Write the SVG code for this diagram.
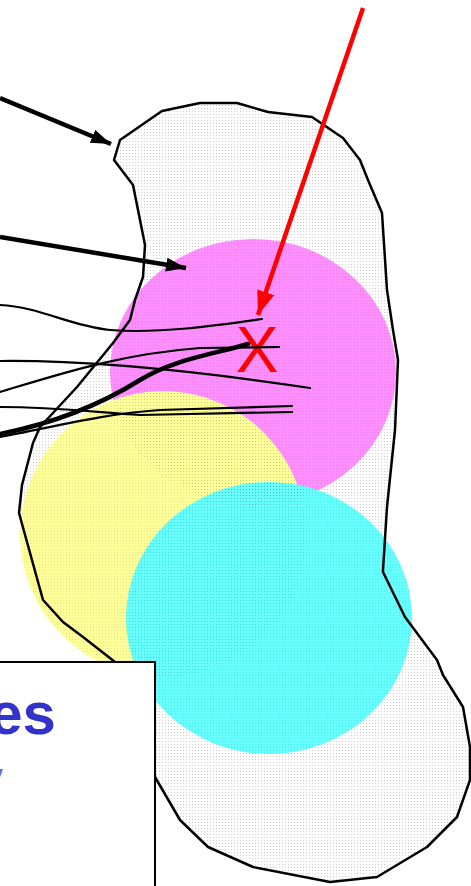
<svg xmlns="http://www.w3.org/2000/svg" width="471" height="886" viewBox="0 0 471 886">
<style>
.outline{fill:none;stroke:#000;stroke-width:2.5;stroke-linejoin:round}
.thin{fill:none;stroke:#000;stroke-width:2.2;stroke-linecap:round}
.thick{fill:none;stroke:#000;stroke-width:4.5;stroke-linecap:round}
.arrow{fill:none;stroke:#000;stroke-width:4.5}
.red{fill:none;stroke:#ff0000;stroke-width:4.5}
.lbl{font-family:"Liberation Sans",Arial,sans-serif;font-weight:bold}
</style>
<defs>
<pattern id="dots" width="3" height="3" patternUnits="userSpaceOnUse">
<rect width="3" height="3" fill="#ffffff"/>
<rect width="1" height="1" fill="#cfcfcf"/>
</pattern>
<pattern id="dotsOver" width="3" height="3" patternUnits="userSpaceOnUse">
<rect width="1" height="1" fill="#000" fill-opacity="0.1"/>
</pattern>
<marker id="ah" markerUnits="userSpaceOnUse" markerWidth="22" markerHeight="16" refX="20" refY="7" orient="auto">
<path d="M0,0 L20,7 L0,14 z" fill="#000"/>
</marker>
<marker id="ahr" markerUnits="userSpaceOnUse" markerWidth="26" markerHeight="20" refX="24" refY="9" orient="auto">
<path d="M0,0 L24,9 L0,18 z" fill="#ff0000"/>
</marker>
</defs>

<g id="blob">
<path id="blobShape" d="M120,140 L114,160 L133,185 L145,245 L143,277 L135,300 L130,320 L113,343 L77,387 L40,427 L33,443 L22,485 L19,513 L43,600 L63,622 L83,637 L115,662 L150,690 L155,777 L180,820 L208,847 L253,867 L330,882 L377,877 L427,847 L457,817 L470,780 L470,747 L463,707 L443,675 L437,660 L405,617 L383,572 L383,570 L387,507 L395,430 L398,360 L393,330 L387,290 L382,213 L368,180 L360,160 L343,138 L312,117 L268,112 L237,103 L200,103 L162,111 Z" fill="url(#dots)"/>
</g>

<g id="circles">
<ellipse id="magenta" cx="253" cy="372" rx="143" ry="133" fill="#ff8fff"/>
<circle id="yellow" cx="163" cy="534" r="143" fill="#ffff99"/>
<ellipse id="cyan" cx="269" cy="618" rx="143" ry="136" fill="#66ffff"/>
<ellipse cx="253" cy="372" rx="143" ry="133" fill="url(#dotsOver)"/>
<circle cx="163" cy="534" r="143" fill="url(#dotsOver)"/>
<ellipse cx="269" cy="618" rx="143" ry="136" fill="url(#dotsOver)"/>
</g>

<g id="blobOutline">
<path class="outline" d="M120,140 L114,160 L133,185 L145,245 L143,277 L135,300 L130,320 L113,343 L77,387 L40,427 L33,443 L22,485 L19,513 L43,600 L63,622 L83,637 L115,662 L150,690 L155,777 L180,820 L208,847 L253,867 L330,882 L377,877 L427,847 L457,817 L470,780 L470,747 L463,707 L443,675 L437,660 L405,617 L383,572 L383,570 L387,507 L395,430 L398,360 L393,330 L387,290 L382,213 L368,180 L360,160 L343,138 L312,117 L268,112 L237,103 L200,103 L162,111 Z"/>
</g>

<g id="marker-x">
<text x="257" y="372" text-anchor="middle" font-family="Liberation Sans,Arial,sans-serif" font-size="64" fill="#ff0000">X</text>
</g>

<g id="connectors">
<path class="thin" d="M0,305 C40,307 70,326 110,330 C160,334 220,325 262,319"/>
<path class="thin" d="M0,361 C90,360 190,370 310,388"/>
<path class="thin" d="M0,392 C60,374 120,354 200,348 L279,347"/>
<path class="thin" d="M0,407 C60,407 100,413 140,415 L292,412"/>
<path class="thin" d="M0,437 C50,428 100,414 160,410 L292,406"/>
<path class="thick" d="M0,434 C50,424 100,405 140,380 C172,360 210,355 248,344"/>
<line class="arrow" x1="0" y1="98" x2="111" y2="144" marker-end="url(#ah)"/>
<line class="arrow" x1="0" y1="237" x2="186" y2="268" marker-end="url(#ah)"/>
<line class="red" x1="363" y1="8" x2="258" y2="315" marker-end="url(#ahr)"/>
</g>

<g id="box">
<rect x="-5" y="662" width="160" height="240" fill="#ffffff" stroke="#000" stroke-width="2"/>
<text class="lbl" x="56" y="734" text-anchor="end" font-size="60" fill="#3333cc">es</text>
<text class="lbl" x="3" y="786" text-anchor="end" font-size="32" fill="#6a6ae0">v</text>
</g>
</svg>
